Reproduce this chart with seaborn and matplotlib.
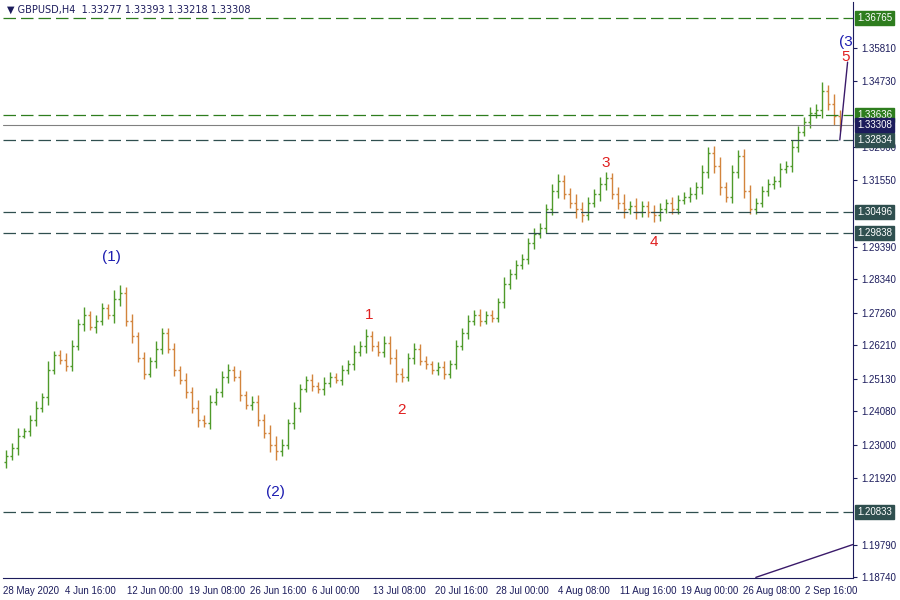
import numpy as np
import pandas as pd
import matplotlib
matplotlib.use("Agg")
import matplotlib.pyplot as plt
import seaborn as sns

# closes in pips above 1.2000, one bar per ~8h
close_pips = [265, 290, 330, 345, 380, 420, 455, 540, 590, 575,
              555, 620, 690, 720, 680, 700, 740, 720, 770, 790,
              700, 650, 580, 530, 570, 610, 660, 610, 540, 510,
              470, 420, 380, 370, 440, 470, 520, 540, 520, 460,
              430, 440, 380, 340, 300, 280, 300, 370, 420, 480,
              510, 490, 480, 500, 520, 510, 540, 560, 600, 620,
              650, 620, 600, 630, 580, 530, 520, 580, 610, 570,
              560, 540, 550, 530, 560, 620, 660, 700, 720, 700,
              720, 710, 760, 820, 850, 880, 900, 950, 980, 1000,
              1060, 1120, 1150, 1110, 1080, 1060, 1040, 1080, 1110, 1140,
              1160, 1110, 1080, 1060, 1070, 1050, 1070, 1050, 1040, 1060,
              1080, 1060, 1090, 1100, 1110, 1130, 1180, 1240, 1200, 1130,
              1100, 1180, 1230, 1120, 1060, 1080, 1120, 1140, 1150, 1190,
              1200, 1260, 1310, 1340, 1370, 1380, 1440, 1400, 1360, 1330]
wick_pips = [20, 15, 25, 10, 18, 22, 14, 30, 12, 16,
             20, 18, 15, 25, 12, 20, 16, 14, 30, 25,
             18, 22, 15, 20, 12, 24, 18, 16, 20, 14,
             22, 18, 25, 15, 20, 12, 18, 22, 16, 20,
             14, 18, 22, 20, 25, 30, 18, 15, 20, 16,
             12, 18, 14, 20, 16, 12, 18, 14, 22, 16,
             25, 18, 14, 20, 22, 30, 18, 16, 20, 14,
             18, 12, 16, 20, 14, 18, 16, 20, 14, 18,
             12, 16, 14, 20, 18, 16, 14, 18, 20, 16,
             18, 22, 25, 20, 18, 30, 22, 18, 16, 25,
             20, 18, 22, 30, 16, 25, 18, 16, 22, 20,
             14, 18, 16, 14, 20, 18, 22, 20, 25, 28,
             18, 22, 20, 25, 18, 16, 14, 18, 16, 20,
             14, 22, 18, 16, 20, 18, 30, 22, 30, 20]

date_labels = ["28 May 2020", "4 Jun 16:00", "12 Jun 00:00", "19 Jun 08:00",
               "26 Jun 16:00", "6 Jul 00:00", "13 Jul 08:00", "20 Jul 16:00",
               "28 Jul 00:00", "4 Aug 08:00", "11 Aug 16:00", "19 Aug 00:00",
               "26 Aug 08:00", "2 Sep 16:00"]
date_px = [3, 65, 127, 189, 250, 312, 373, 435, 496, 558, 620, 681, 743, 805]

tick_prices = [1.35810, 1.34730, 1.32600, 1.31550, 1.29390, 1.28340, 1.27260,
               1.26210, 1.25130, 1.24080, 1.23000, 1.21920, 1.19790, 1.18740]
level_prices = [1.36765, 1.33636, 1.32834, 1.30496, 1.29838, 1.20833]
level_colors = ["#2e7d1e", "#2e7d1e", "#2f4f4f", "#2f4f4f", "#2f4f4f", "#2f4f4f"]
bid_price = 1.33308

wave_labels = ["(1)", "(2)", "(3", "1", "2", "3", "4", "5"]
wave_x = [17.5, 45, 140, 60.5, 66, 100, 108, 140]
wave_y = [1.2907, 1.2147, 1.3598, 1.2720, 1.2414, 1.3210, 1.2955, 1.3550]
wave_colors = ["#1c1cb0"] * 3 + ["#e02020"] * 5

df = pd.DataFrame({"close": 1.2 + np.array(close_pips) / 10000})
df["open"] = df["close"].shift(1).fillna(1.2245)
w = np.array(wick_pips) / 10000
df["high"] = df[["open", "close"]].max(axis=1) + w
df["low"] = df[["open", "close"]].min(axis=1) - w * 0.9
df["i"] = np.arange(len(df))

sns.set_style("white")
plt.rcParams["font.family"] = ["Liberation Sans", "DejaVu Sans"]
fig = plt.figure(figsize=(9, 6), dpi=100)
ax = fig.add_axes([3 / 900, 22 / 600, 850 / 900, 576 / 600])

up = df["close"] >= df["open"]
for mask, col in [(up, "#4f9a2a"), (~up, "#d2843c")]:
    d = df[mask]
    ax.vlines(d["i"], d["low"], d["high"], color=col, lw=1)
    ax.hlines(d["open"], d["i"] - 0.35, d["i"], color=col, lw=1)
    ax.hlines(d["close"], d["i"], d["i"] + 0.35, color=col, lw=1)

for p, c in zip(level_prices, level_colors):
    ax.axhline(p, color=c, lw=0.9, ls=(0, (10, 4)))
ax.axhline(bid_price, color="#808080", lw=0.8)

# wave lines
lines = pd.DataFrame({"x": [139, 140.3], "y": [1.3283, 1.3534]})
sns.lineplot(data=lines, x="x", y="y", ax=ax, color="#3a1a6a", lw=1)
lines2 = pd.DataFrame({"x": [125, 141.2], "y": [1.1873, 1.1979]})
sns.lineplot(data=lines2, x="x", y="y", ax=ax, color="#3a1a6a", lw=1)

for t, x, y, c in zip(wave_labels, wave_x, wave_y, wave_colors):
    ax.text(x, y, t, color=c, fontsize=11, ha="center", va="center")

ax.set_xlim(-0.5, 141.2)
ax.set_ylim(1.1871, 1.3728)
ax.set_xlabel("")
ax.set_ylabel("")
for s in ["top", "left"]:
    ax.spines[s].set_visible(False)
for s in ["right", "bottom"]:
    ax.spines[s].set_color("#1c1c5c")

ax.yaxis.tick_right()
ax.set_yticks(tick_prices)
ax.set_yticklabels([f"{p:.5f}" for p in tick_prices])
ax.tick_params(axis="y", labelsize=7, length=3, colors="#1c1c5c", pad=3)

ax.set_xticks([(p - 3) / 6 - 0.5 for p in date_px])
ax.set_xticklabels(date_labels, ha="left")
ax.tick_params(axis="x", labelsize=7, length=3, colors="#1c1c5c", pad=3)

for p, c in zip(level_prices + [bid_price], level_colors + ["#1c1c5c"]):
    ax.text(1.005, p, f"{p:.5f}", transform=ax.get_yaxis_transform(), color="white",
            fontsize=7, va="center", ha="left",
            bbox=dict(boxstyle="square,pad=0.2", fc=c, ec=c))

ax.text(0.005, 0.995, "\u25bc GBPUSD,H4  1.33277 1.33393 1.33218 1.33308", transform=ax.transAxes,
        fontsize=7, color="#1c1c5c", va="top", ha="left", family=["DejaVu Sans"])

fig.savefig("out.png", dpi=100)
